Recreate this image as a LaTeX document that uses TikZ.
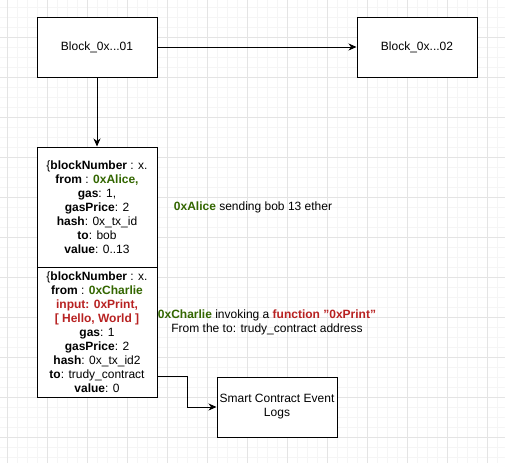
\documentclass[tikz,border=0pt]{standalone}
\usepackage{fontspec}
\setmainfont{Liberation Sans}
\usetikzlibrary{arrows.meta}
\definecolor{txgreen}{RGB}{51,102,0}
\definecolor{txred}{RGB}{184,34,34}
\definecolor{gridminor}{RGB}{245,245,245}
\definecolor{gridmajor}{RGB}{228,228,228}
\tikzset{
  box/.style={draw=black, line width=1pt, fill=white, minimum width=120pt, inner sep=0pt, align=center, font=\fontsize{12}{14}\selectfont},
  lbl/.style={inner sep=0pt, align=center, font=\fontsize{12}{14}\selectfont},
  arr/.style={line width=1pt, -{Stealth[length=8pt,width=7pt,inset=2.5pt]}},
}
\begin{document}
\begin{tikzpicture}[x=1pt,y=-1pt]
\useasboundingbox (0,0) rectangle (505,463);
\fill[white] (0,0) rectangle (505,463);
% grid
\foreach \i in {7,17,...,497} \draw[gridminor, line width=0.8pt] (\i,0) -- (\i,463);
\foreach \j in {7,17,...,457} \draw[gridminor, line width=0.8pt] (0,\j) -- (505,\j);
\foreach \i in {7,47,...,487} \draw[gridmajor, line width=0.8pt] (\i,0) -- (\i,463);
\foreach \j in {37,77,...,437} \draw[gridmajor, line width=0.8pt] (0,\j) -- (505,\j);

\node[box, minimum height=60pt] (b1) at (97,47) {Block\_0x...01};
\node[box, minimum height=60pt] (b2) at (417,47) {Block\_0x...02};

\node[box, minimum height=120pt] (tx1) at (97,207) {%
\{\textbf{blockNumber} : x.\\
\textbf{from} : \textcolor{txgreen}{\textbf{0xAlice,}}\\
\textbf{gas}: 1,\\
\textbf{gasPrice}: 2\\
\textbf{hash}: 0x\_tx\_id\\
\textbf{to}: bob\\
\textbf{value}: 0..13};

\node[box, minimum height=130pt] (tx2) at (97,332) {%
\{\textbf{blockNumber} : x.\\
\textbf{from} : \textcolor{txgreen}{\textbf{0xCharlie}}\\
\textcolor{txred}{\textbf{input: 0xPrint,}}\\
\textcolor{txred}{\textbf{[ Hello, World ]}}\\
\textbf{gas}: 1\\
\textbf{gasPrice}: 2\\
\textbf{hash}: 0x\_tx\_id2\\
\textbf{to}: trudy\_contract\\
\textbf{value}: 0};

\node[box, minimum height=60pt] (sc) at (277,407) {Smart Contract Event\\Logs};

\node[lbl] (l1) at (253,207) {\textcolor{txgreen}{\textbf{0xAlice}} sending bob 13 ether};
\node[lbl] (l2) at (267,322.5) {\textcolor{txgreen}{\textbf{0xCharlie}} invoking a \textcolor{txred}{\textbf{function "0xPrint"}}\\From the to: trudy\_contract address};

\draw[arr] (b1.east) -- (b2.west);
\draw[arr] (b1.south) -- (tx1.north);
\draw[arr] (tx2.east |- sc.north) -- ++(30,0) |- (sc.west);
\end{tikzpicture}
\end{document}
